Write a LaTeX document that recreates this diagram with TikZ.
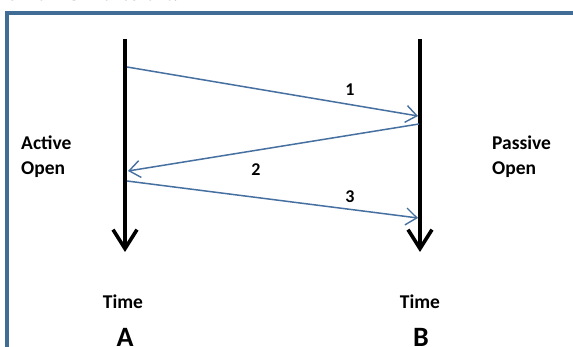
\documentclass[tikz,border=0pt]{standalone}
\usepackage{fontspec}
\setmainfont{Carlito}
\newfontfamily\titlefont{Liberation Serif}
\usetikzlibrary{arrows.meta}
\definecolor{framecol}{RGB}{65,108,150}
\definecolor{msgcol}{RGB}{70,112,160}
\tikzset{
  timeline/.style={line width=3.8pt, -{Straight Barb[length=19pt,width=24pt,line width=3.6pt]}},
  msg/.style={line width=1.5pt, draw=msgcol, -{Straight Barb[length=11pt,width=17pt,line width=1.4pt]}},
  lbl/.style={font=\fontsize{19.5}{22}\selectfont\bfseries, inner sep=0pt},
  num/.style={font=\fontsize{18}{20}\selectfont\bfseries, inner sep=0pt},
  big/.style={font=\fontsize{28}{30}\selectfont\bfseries, inner sep=0pt},
  framel/.style={line width=4pt, draw=framecol}
}
\begin{document}
\begin{tikzpicture}[x=1pt,y=-1pt]
\useasboundingbox (0,0) rectangle (573,347);
\fill[white] (0,0) rectangle (573,347);
% clipped title
\begin{scope}
\clip (0,0) rectangle (573,6);
\node[anchor=base west, inner sep=0pt, font=\titlefont\fontsize{17}{20}\selectfont\bfseries] (title) at (-4,1) {Normal TCP handshake:};
\end{scope}
% frame
\coordinate (fl) at (7,347);
\coordinate (fc) at (7,13);
\coordinate (fr) at (575,13);
\draw[framel, line join=miter] (fl) -- (fc) -- (fr);
% timelines
\coordinate (Atop) at (125,39);
\coordinate (Abot) at (125,252);
\coordinate (Btop) at (420,39);
\coordinate (Bbot) at (420,252);
\draw[timeline] (Atop) -- (Abot);
\draw[timeline] (Btop) -- (Bbot);
% messages
\coordinate (a1) at (127,67);
\coordinate (b1) at (418,116);
\coordinate (b2) at (419,124);
\coordinate (a2) at (128,171);
\coordinate (a3) at (127,181);
\coordinate (b3) at (418,218);
\draw[msg] (a1) -- (b1);
\draw[msg] (b2) -- (a2);
\draw[msg] (a3) -- (b3);
\node[num] (n1) at (350,90) {1};
\node[num] (n2) at (256,170) {2};
\node[num] (n3) at (350,197) {3};
% side labels
\node[lbl, anchor=west] (act) at (21,143) {Active};
\node[lbl, anchor=west] (aopen) at (21,170) {Open};
\node[lbl, anchor=west] (pas) at (492,143) {Passive};
\node[lbl, anchor=west] (popen) at (492,170) {Open};
\node[lbl] (timeA) at (123,302) {Time};
\node[lbl] (timeB) at (420,302) {Time};
\node[big, anchor=base] (A) at (125,347) {A};
\node[big, anchor=base] (B) at (421,347) {B};
\end{tikzpicture}
\end{document}
